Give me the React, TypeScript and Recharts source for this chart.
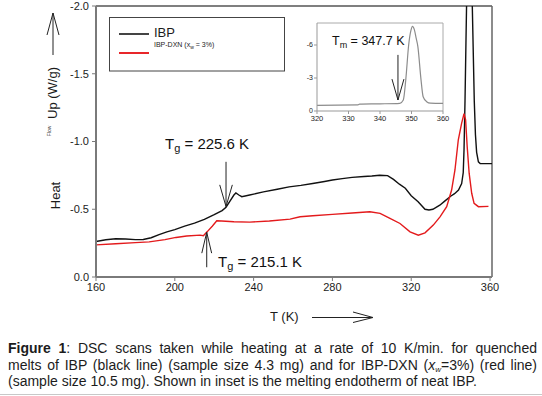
import React from "react";
import { LineChart, Line, XAxis, YAxis, ReferenceLine } from "recharts";

const FONT = "'Liberation Sans', Arial, Helvetica, sans-serif";

// axis ticks
const xTicks = [160, 200, 240, 280, 320, 360];
const yTicks = [-2, -1.5, -1, -0.5, 0];
const insetXTicks = [320, 330, 340, 350, 360];
const insetYTicks = [-6, -3, 0];

// IBP (black line)
const ibpT = [
  160, 165, 170, 175, 180, 184, 188, 192, 196, 200, 205, 210, 215, 220, 224, 226,
  228, 230, 231, 232.5, 234, 238, 245, 252, 258, 264, 270, 276, 280, 285, 290,
  296, 300, 304, 308, 311, 314, 317, 320, 323.5, 327, 329, 331, 334.5, 337, 340,
  342, 344, 345.6, 346.4, 346.8, 347.3, 347.8, 348.2, 349, 349.8, 350.5, 351,
  351.5, 352, 352.6, 353.2, 354.1, 355, 358, 361,
];
const ibpHeat = [
  -0.262, -0.275, -0.282, -0.28, -0.276, -0.277, -0.29, -0.313, -0.333, -0.35,
  -0.375, -0.397, -0.425, -0.46, -0.49, -0.515, -0.56, -0.605, -0.62, -0.605,
  -0.593, -0.605, -0.628, -0.648, -0.665, -0.676, -0.69, -0.705, -0.716, -0.726,
  -0.735, -0.742, -0.745, -0.751, -0.748, -0.72, -0.685, -0.655, -0.6, -0.556,
  -0.5, -0.495, -0.5, -0.53, -0.56, -0.596, -0.615, -0.642, -0.69, -0.77, -0.94,
  -1.3, -1.75, -2.1, -2.6, -2.8, -2.6, -2.0, -1.65, -1.3, -1.05, -0.92, -0.85,
  -0.838, -0.837, -0.837,
];

// IBP-DXN (red line)
const dxnT = [
  160, 170, 180, 187, 195, 200.6, 206, 212.8, 214.5, 216.5, 219, 221.3, 223.8,
  230, 238, 248, 258.5, 263.6, 270, 280, 290, 299, 304.2, 309.2, 314.3, 319.4,
  323.6, 327, 331.2, 334.6, 338, 340.5, 342.2, 343.9, 345.6, 346.8, 347.6, 348.4,
  349.4, 350.7, 351.9, 354.1, 359.2,
];
const dxnHeat = [
  -0.237, -0.245, -0.254, -0.259, -0.276, -0.292, -0.303, -0.309, -0.305, -0.335,
  -0.375, -0.415, -0.413, -0.408, -0.405, -0.413, -0.427, -0.445, -0.452, -0.462,
  -0.472, -0.482, -0.47, -0.432, -0.395, -0.333, -0.309, -0.326, -0.383, -0.444,
  -0.519, -0.642, -0.79, -1.013, -1.136, -1.205, -1.16, -0.963, -0.766, -0.618,
  -0.544, -0.519, -0.521,
];

// inset: melting endotherm of neat IBP
const insetT = [
  320, 333, 333.5, 340, 346.3, 347.4, 348.2, 349.1, 349.8, 350.3, 350.9, 351.5,
  352, 353, 353.7, 354.8, 356, 360,
];
const insetHeat = [
  -0.52, -0.55, -0.62, -0.65, -0.7, -1.0, -2.9, -6.0, -7.3, -7.7, -7.4, -6.6,
  -5.9, -2.9, -1.3, -0.85, -0.72, -0.7,
];

const ibpData = ibpT.map((t, i) => ({ t, v: ibpHeat[i] }));
const dxnData = dxnT.map((t, i) => ({ t, v: dxnHeat[i] }));
const insetData = insetT.map((t, i) => ({ t, v: insetHeat[i] }));

const TXT = "#1c1c1c";
const ARROW = "#222";

export default function App() {
  return (
    <div
      style={{
        position: "absolute",
        left: 0,
        top: 0,
        width: 542,
        height: 396,
        overflow: "hidden",
        background: "#fff",
        fontFamily: FONT,
      }}
    >
      {/* main chart */}
      <div style={{ position: "absolute", left: 0, top: 0 }}>
        <LineChart
          width={542}
          height={300}
          margin={{ top: 6, right: 50, bottom: 0, left: 0 }}
        >
          <XAxis
            type="number"
            dataKey="t"
            domain={[160, 361]}
            ticks={xTicks}
            interval={0}
            allowDataOverflow
            height={23}
            tickSize={4}
            tickMargin={2}
            axisLine={{ stroke: "#7a7a7a", strokeWidth: 2 }}
            tickLine={{ stroke: "#7a7a7a" }}
            tick={{ fontSize: 11, fill: TXT, fontFamily: FONT }}
          />
          <YAxis
            type="number"
            dataKey="v"
            domain={[-2, 0]}
            reversed
            ticks={yTicks}
            interval={0}
            allowDataOverflow
            width={96}
            tickSize={4}
            tickMargin={3}
            tickFormatter={(v: number) => v.toFixed(1)}
            axisLine={{ stroke: "#7a7a7a", strokeWidth: 2 }}
            tickLine={{ stroke: "#7a7a7a" }}
            tick={{ fontSize: 11, fill: TXT, fontFamily: FONT }}
          />
          <ReferenceLine y={-2} stroke="#555" strokeWidth={1.5} />
          <ReferenceLine x={361} stroke="#666" strokeWidth={1.5} />
          <Line
            data={ibpData}
            dataKey="v"
            type="linear"
            stroke="#111"
            strokeWidth={1.4}
            dot={false}
            isAnimationActive={false}
          />
          <Line
            data={dxnData}
            dataKey="v"
            type="linear"
            stroke="#e31a1c"
            strokeWidth={1.4}
            dot={false}
            isAnimationActive={false}
          />
          {/* Tg = 225.6 K arrow */}
          <ReferenceLine segment={[{ x: 226, y: -0.85 }, { x: 226, y: -0.52 }]} stroke={ARROW} strokeWidth={1} />
          <ReferenceLine segment={[{ x: 222.8, y: -0.68 }, { x: 226, y: -0.52 }]} stroke={ARROW} strokeWidth={1} />
          <ReferenceLine segment={[{ x: 229.2, y: -0.68 }, { x: 226, y: -0.52 }]} stroke={ARROW} strokeWidth={1} />
          {/* Tg = 215.1 K arrow */}
          <ReferenceLine segment={[{ x: 216.2, y: -0.072 }, { x: 216.2, y: -0.33 }]} stroke={ARROW} strokeWidth={1} />
          <ReferenceLine segment={[{ x: 213.7, y: -0.176 }, { x: 216.2, y: -0.33 }]} stroke={ARROW} strokeWidth={1} />
          <ReferenceLine segment={[{ x: 218.7, y: -0.176 }, { x: 216.2, y: -0.33 }]} stroke={ARROW} strokeWidth={1} />
        </LineChart>
      </div>

      {/* inset chart */}
      <div style={{ position: "absolute", left: 290, top: 15 }}>
        <LineChart
          width={160}
          height={116}
          margin={{ top: 8, right: 7, bottom: 0, left: 0 }}
        >
          <XAxis
            type="number"
            dataKey="t"
            domain={[320, 360]}
            ticks={insetXTicks}
            interval={0}
            height={20}
            tickSize={3}
            tickMargin={2}
            axisLine={{ stroke: "#999" }}
            tickLine={{ stroke: "#999" }}
            tick={{ fontSize: 7.5, fill: TXT, fontFamily: FONT }}
          />
          <YAxis
            type="number"
            dataKey="v"
            domain={[-8, 0]}
            reversed
            ticks={insetYTicks}
            interval={0}
            width={27}
            tickSize={3}
            tickMargin={1}
            axisLine={{ stroke: "#999" }}
            tickLine={{ stroke: "#999" }}
            tick={{ fontSize: 7, fill: TXT, fontFamily: FONT }}
          />
          <ReferenceLine y={-8} stroke="#aaa" strokeWidth={1} />
          <ReferenceLine x={360} stroke="#aaa" strokeWidth={1} />
          <Line
            data={insetData}
            dataKey="v"
            type="monotone"
            stroke="#8c8c8c"
            strokeWidth={1.2}
            dot={false}
            isAnimationActive={false}
          />
          <ReferenceLine segment={[{ x: 345.7, y: -5.1 }, { x: 345.7, y: -1.0 }]} stroke={ARROW} strokeWidth={1} />
          <ReferenceLine segment={[{ x: 343.8, y: -2.9 }, { x: 345.7, y: -1.0 }]} stroke={ARROW} strokeWidth={1} />
          <ReferenceLine segment={[{ x: 347.6, y: -2.9 }, { x: 345.7, y: -1.0 }]} stroke={ARROW} strokeWidth={1} />
        </LineChart>
      </div>

      {/* annotations, labels and legend */}
      <svg
        width={542}
        height={396}
        style={{ position: "absolute", left: 0, top: 0, pointerEvents: "none" }}
        fontFamily={FONT}
      >
        {/* legend */}
        <rect x={109.5} y={17.5} width={175} height={53.5} fill="none" stroke="#444" strokeWidth={1} />
        <line x1={119} y1={34} x2={149} y2={34} stroke="#444" strokeWidth={2} />
        <line x1={119} y1={53} x2={149} y2={53} stroke="#e8262a" strokeWidth={2} />
        <text x={154} y={36.7} fontSize={13} fill={TXT}>IBP</text>
        <text x={154} y={47} fontSize={7} fill={TXT}>
          IBP-DXN (x<tspan fontSize={5} dy={1.5}>w</tspan>
          <tspan dy={-1.5}> = 3%)</tspan>
        </text>

        {/* y axis label */}
        <line x1={53} y1={55} x2={53} y2={13} stroke={ARROW} strokeWidth={1} />
        <polyline points="47,35 53,13 59,35" fill="none" stroke={ARROW} strokeWidth={1} />
        <text x={57} y={93} fontSize={13} fill={TXT} textAnchor="middle" transform="rotate(-90 57 93)">
          Up (W/g)
        </text>
        <text x={51} y={131} fontSize={5} fill={TXT} textAnchor="middle" transform="rotate(-90 51 131)">
          Flow
        </text>
        <text x={60} y={195.5} fontSize={13} fill={TXT} textAnchor="middle" transform="rotate(-90 60 195.5)">
          Heat
        </text>

        {/* x axis label */}
        <text x={270} y={321} fontSize={13} fill={TXT}>T (K)</text>
        <line x1={312} y1={317.5} x2={373} y2={317.5} stroke={ARROW} strokeWidth={1} />
        <polyline points="353,312 373,317.5 353,322.5" fill="none" stroke={ARROW} strokeWidth={1} />

        {/* Tg annotations */}
        <text x={165} y={149} fontSize={15} fill="#111">
          T<tspan fontSize={11} dy={3}>g</tspan>
          <tspan dy={-3}> = 225.6 K</tspan>
        </text>
        <text x={218} y={266.5} fontSize={15} fill="#111">
          T<tspan fontSize={11} dy={3}>g</tspan>
          <tspan dy={-3}> = 215.1 K</tspan>
        </text>
        {/* Tm annotation */}
        <text x={332} y={45} fontSize={12.5} fill="#111">
          T<tspan fontSize={9} dy={2.5}>m</tspan>
          <tspan dy={-2.5}> = 347.7 K</tspan>
        </text>
      </svg>

      {/* caption */}
      <div
        style={{
          position: "absolute",
          left: 8,
          top: 340,
          width: 529,
          fontSize: 14,
          lineHeight: "16.5px",
          color: TXT,
          fontFamily: FONT,
        }}
      >
        <div style={{ textAlign: "justify", textAlignLast: "justify", whiteSpace: "nowrap" }}>
          <b>Figure 1</b>: DSC scans taken while heating at a rate of 10 K/min. for quenched
        </div>
        <div style={{ textAlign: "justify", textAlignLast: "justify", whiteSpace: "nowrap" }}>
          melts of IBP (black line) (sample size 4.3 mg) and for IBP-DXN (
          <i>x</i>
          <span style={{ fontSize: 8, lineHeight: "8px", position: "relative", top: 2 }}>
            <i>w</i>
          </span>
          =3%) (red line)
        </div>
        <div style={{ textAlign: "left", whiteSpace: "nowrap" }}>
          (sample size 10.5 mg). Shown in inset is the melting endotherm of neat IBP.
        </div>
      </div>
      <div style={{ position: "absolute", left: 0, top: 394, width: 542, height: 1, background: "#c8c8c8" }} />
    </div>
  );
}
